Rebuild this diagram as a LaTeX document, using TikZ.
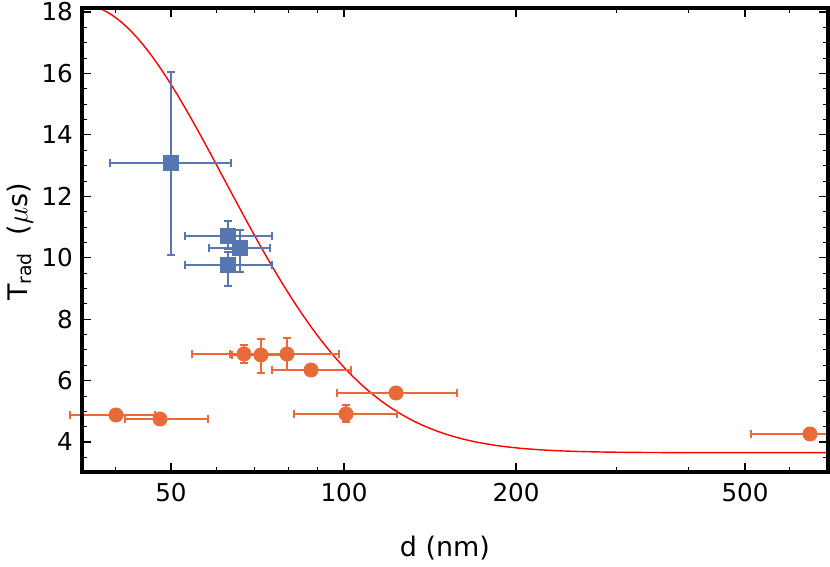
\documentclass[tikz,border=0pt]{standalone}
\usepackage{fontspec}
\setmainfont{DejaVu Sans}
\definecolor{ptblue}{RGB}{86,119,176}
\definecolor{ptorange}{RGB}{232,106,56}
\begin{document}
\begin{tikzpicture}[x=0.03cm,y=-0.03cm,
  frame/.style={draw=black, line width=2.8pt},
  fit/.style={draw=red, line width=1.2pt},
  bar/.style={line width=1pt},
  ticklab/.style={font=\fontsize{21}{21}\selectfont},
  axlab/.style={font=\fontsize{23}{23}\selectfont}]
\useasboundingbox (0,0) rectangle (830,567);
% frame and ticks
\draw[frame] (82,8) rectangle (828,472);
\foreach \v/\py in {4/442,6/380.5,8/319.1,10/257.8,12/196.3,14/134.8,16/73.4,18/12} {
  \draw[line width=0.9pt] (82,\py) -- (91,\py) (828,\py) -- (819,\py);
  \node[ticklab, anchor=east] (y\v) at (77,\py) {\v};
}
\foreach \py in {457.4,426.6,411.3,395.9,365.2,349.8,334.4,303.8,288.5,273.1,242.4,227,211.7,181,165.6,150.2,119.5,104.1,88.8,58,42.7,27.4}
  \draw[line width=0.6pt] (82,\py) -- (87,\py) (828,\py) -- (823,\py);
\foreach \d/\px in {50/171,100/344,200/516,500/745} {
  \draw[line width=0.9pt] (\px,472) -- (\px,463) (\px,8) -- (\px,17);
  \node[ticklab, anchor=north] (x\d) at (\px,479) {\d};
}
\foreach \px in {115.4,216.3,254.7,287.9,317.2,616.8,688.4,789.3}
  \draw[line width=0.6pt] (\px,472) -- (\px,467) (\px,8) -- (\px,13);
\node[axlab] (xlabel) at (445,548) {d (nm)};
\node[axlab, rotate=90] (ylabel) at (20,242) {T$_{\mathrm{rad}}$~~($\mu$s)};
% fit curve
\begin{scope}
\clip (82,8) rectangle (828,472);
\draw[fit] plot[domain=82:828, samples=150, variable=\t]
  (\t, {12+(18-3.65-14.6*exp(-((\t-80)/205)^2))*30.71});
\end{scope}
% orange data
\foreach \x/\y/\xl/\xr/\yl/\yr in {116/415/70/155/413/417, 160/419/125/208/417/421,
  244/354/230/286/345/363, 261/355/232/288/339/373, 287/354/192/339/338/370,
  311/370/272/351/368/372, 346/414/294/397/405/422, 396/393/337/457/391/395,
  810/434/751/840/432/436} {
  \draw[ptorange, bar] (\xl,\y) -- (\xr,\y) (\xl,\y-4) -- (\xl,\y+4) (\xr,\y-4) -- (\xr,\y+4);
  \draw[ptorange, bar] (\x,\yl) -- (\x,\yr) (\x-4,\yl) -- (\x+4,\yl) (\x-4,\yr) -- (\x+4,\yr);
  \fill[ptorange] (\x,\y) circle (7.5);
}
% blue data
\foreach \x/\y/\xl/\xr/\yl/\yr in {171/163/110/231/72/255, 228/236/185/272/221/249,
  240/248/209/270/230/272, 228/265/185/272/252/286} {
  \draw[ptblue, bar] (\xl,\y) -- (\xr,\y) (\xl,\y-4) -- (\xl,\y+4) (\xr,\y-4) -- (\xr,\y+4);
  \draw[ptblue, bar] (\x,\yl) -- (\x,\yr) (\x-4,\yl) -- (\x+4,\yl) (\x-4,\yr) -- (\x+4,\yr);
  \fill[ptblue] (\x-8,\y-8) rectangle (\x+8,\y+8);
}
\draw[frame] (82,8) rectangle (828,472);
\end{tikzpicture}
\end{document}
